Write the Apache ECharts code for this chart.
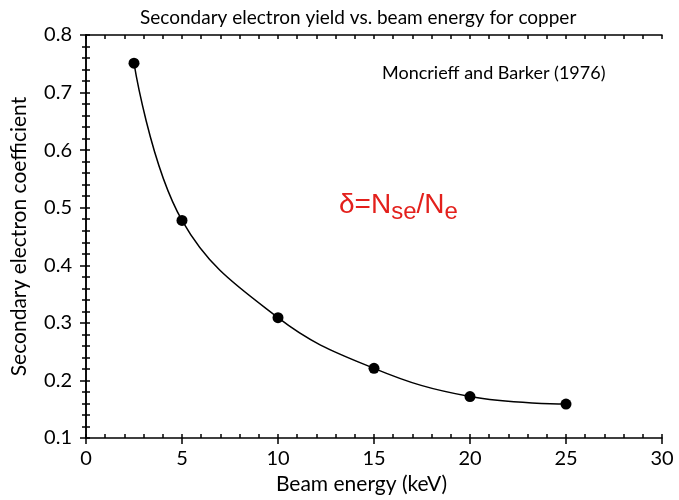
<!DOCTYPE html>
<html><head><meta charset="utf-8">
<script src="https://cdn.jsdelivr.net/npm/echarts@6/dist/echarts.min.js"></script>
<style>html,body{margin:0;padding:0;background:#fff}#c{width:679px;height:500px}</style>
</head><body><div id="c"></div>
<script>
const energy = [2.5, 5, 10, 15, 20, 25];
const yieldVals = [0.751, 0.478, 0.309, 0.221, 0.172, 0.159];
const titleText = 'Secondary electron yield vs. beam energy for copper';
const xName = 'Beam energy (keV)';
const yName = 'Secondary electron coefficient';
const refText = 'Moncrieff and Barker (1976)';

const F = 'Lato';
const RF = '"Liberation Sans", Arial, sans-serif';
const RED = '#e3201c';
const chart = echarts.init(document.getElementById('c'));
const data = energy.map((e, i) => [e, yieldVals[i]]);
const line = {color: '#000', width: 1.5};
chart.setOption({
  animation: false,
  backgroundColor: '#fff',
  textStyle: {fontFamily: F, color: '#000'},
  title: [
    {text: titleText, left: 135, top: 3, textStyle: {fontFamily: F, fontSize: 19, fontWeight: 'normal', color: '#000'}},
    {text: refText, left: 377, top: 59, textStyle: {fontFamily: F, fontSize: 18, fontWeight: 'normal', color: '#000'}},
    {text: '{a|δ=N}{s|se}{a|/N}{s|e}', left: 334, top: 181,
     textStyle: {fontFamily: RF, fontWeight: 'normal', color: RED, rich: {
      a: {fontFamily: RF, fontSize: 28, fontWeight: 'normal', color: RED, lineHeight: 38, verticalAlign: 'middle'},
      s: {fontFamily: RF, fontSize: 24, fontWeight: 'normal', color: RED, lineHeight: 38, verticalAlign: 'bottom'}
    }}}
  ],
  grid: {left: 86, right: 17, top: 35, bottom: 62},
  xAxis: [
    {type: 'value', min: 0, max: 30, interval: 5, position: 'bottom',
     name: xName, nameLocation: 'middle', nameGap: 36,
     nameTextStyle: {fontFamily: F, fontSize: 21, color: '#000', padding: [0, 25, 0, 0]},
     axisLine: {lineStyle: line}, axisTick: {inside: false, length: 6, lineStyle: line},
     axisLabel: {fontFamily: F, fontSize: 20, color: '#000', margin: 11}, splitLine: {show: false}},
    {type: 'value', min: 0, max: 30, interval: 1, position: 'bottom',
     axisLine: {show: false}, axisTick: {inside: true, length: 4, lineStyle: line},
     axisLabel: {show: false}, splitLine: {show: false}},
    {type: 'value', min: 0, max: 30, interval: 1, position: 'top',
     axisLine: {lineStyle: line}, axisTick: {inside: true, length: 4, lineStyle: line},
     axisLabel: {show: false}, splitLine: {show: false}}
  ],
  yAxis: [
    {type: 'value', min: 0.1, max: 0.8, interval: 0.1, position: 'left',
     name: yName, nameLocation: 'middle', nameGap: 56, nameTextStyle: {fontFamily: F, fontSize: 21, color: '#000'},
     axisLine: {lineStyle: line}, axisTick: {inside: false, length: 6, lineStyle: line},
     axisLabel: {fontFamily: F, fontSize: 20, color: '#000', margin: 14, formatter: v => v.toFixed(1)}, splitLine: {show: false}},
    {type: 'value', min: 0.1, max: 0.8, interval: 0.02, position: 'left',
     axisLine: {show: false}, axisTick: {inside: true, length: 4, lineStyle: line},
     axisLabel: {show: false}, splitLine: {show: false}},
    {type: 'value', min: 0.1, max: 0.8, interval: 0.02, position: 'right',
     axisLine: {lineStyle: line}, axisTick: {inside: true, length: 4, lineStyle: line},
     axisLabel: {show: false}, splitLine: {show: false}}
  ],
  series: [{
    type: 'line', data: data, xAxisIndex: 0, yAxisIndex: 0,
    smooth: 0.4,
    symbol: 'circle', symbolSize: 11,
    itemStyle: {color: '#000'}, lineStyle: {color: '#000', width: 1.5}
  }]
});
</script></body></html>
